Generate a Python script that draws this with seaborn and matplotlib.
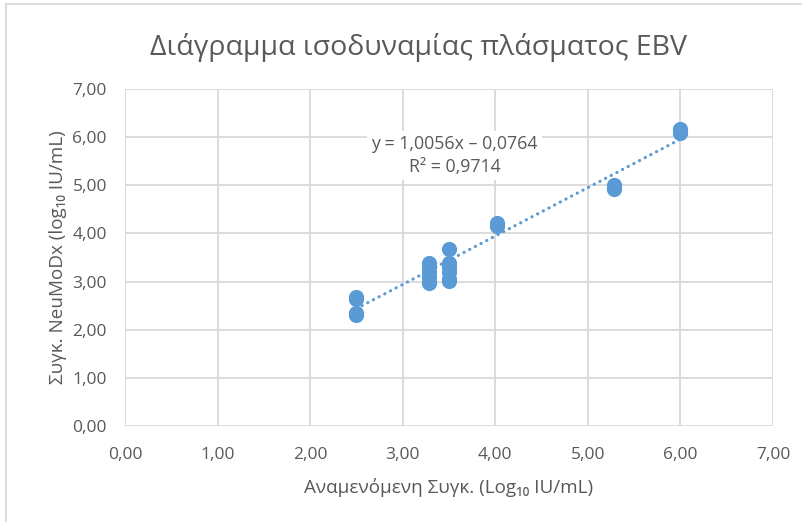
import matplotlib
matplotlib.use("Agg")
import matplotlib.pyplot as plt
import seaborn as sns
import numpy as np
import pandas as pd
from matplotlib.ticker import FuncFormatter, MultipleLocator
from matplotlib.patches import Rectangle

expected = [2.5, 2.5, 2.5, 2.5,
            3.28, 3.28, 3.28, 3.28, 3.28, 3.28,
            3.5, 3.5, 3.5, 3.5, 3.5, 3.5,
            4.02, 4.02,
            5.28, 5.28,
            6.0, 6.0]
measured = [2.68, 2.63, 2.35, 2.30,
            3.38, 3.30, 3.20, 3.10, 3.00, 2.97,
            3.67, 3.38, 3.30, 3.20, 3.05, 3.02,
            4.22, 4.15,
            5.00, 4.92,
            6.17, 6.08]
slope = 1.0056
intercept = -0.0764
r2 = 0.9714

df = pd.DataFrame({"x": expected, "y": measured})

sns.set_theme(style="white")
plt.rcParams['font.family'] = ['Open Sans', 'DejaVu Sans']

blue = "#5B9BD5"
txt = "#595959"
grid = "#D9D9D9"

fig = plt.figure(figsize=(8.03, 5.22), dpi=100)
L, R, T, B = 125, 773, 89, 426
ax = fig.add_axes([L/803, 1-B/522, (R-L)/803, (B-T)/522])

sns.scatterplot(data=df, x="x", y="y", ax=ax, s=120, color=blue,
                edgecolor=blue, linewidth=0, zorder=3, legend=False)

xs = np.array([min(expected), max(expected)])
ax.plot(xs, slope*xs + intercept, linestyle=(0, (0.05, 1.95)), color=blue,
        linewidth=2.3, zorder=4, dash_capstyle='round', solid_capstyle='round')

ax.set_xlim(0, 7)
ax.set_ylim(0, 7)
ax.xaxis.set_major_locator(MultipleLocator(1))
ax.yaxis.set_major_locator(MultipleLocator(1))
fmt = FuncFormatter(lambda v, p: f"{v:.2f}".replace(".", ","))
ax.xaxis.set_major_formatter(fmt)
ax.yaxis.set_major_formatter(fmt)
ax.grid(True, color=grid, linewidth=1.3, zorder=0)
ax.set_axisbelow(True)
for s in ax.spines.values():
    s.set_visible(False)
ax.tick_params(axis='x', length=0, labelsize=12.5, labelcolor=txt, pad=15)
ax.tick_params(axis='y', length=0, labelsize=12.5, labelcolor=txt, pad=13)

ax.set_xlabel("Αναμενόμενη Συγκ. (Log₁₀ IU/mL)", fontsize=13.6, color=txt, labelpad=11)
ax.set_ylabel("Συγκ. NeuMoDx (log₁₀ IU/mL)", fontsize=13.6, color=txt, labelpad=4)

fig.text(419/803, 1-47/522, "Διάγραμμα ισοδυναμίας πλάσματος EBV",
         fontsize=20.5, color=txt, ha='center', va='center')

ax.text(3.56, 5.62, "y = 1,0056x – 0,0764\nR² = 0,9714", ha='center', va='center',
        fontsize=12.8, color=txt, linespacing=1.4,
        bbox=dict(facecolor='white', edgecolor='none', pad=3), zorder=5)

fig.patches.append(Rectangle((6/803, -0.01), 1, 1.01-4/522, transform=fig.transFigure,
                             fill=False, edgecolor=grid, linewidth=1.3))

fig.savefig("out.png", dpi=100)
